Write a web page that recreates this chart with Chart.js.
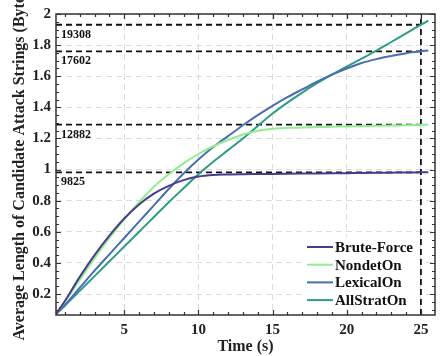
<!DOCTYPE html>
<html>
<head>
<meta charset="utf-8">
<script src="https://cdn.jsdelivr.net/npm/chart.js@4.4.0/dist/chart.umd.min.js"></script>
<style>
  html, body { margin: 0; padding: 0; background: #fff; }
  #wrap { width: 446px; height: 356px; }
</style>
</head>
<body>
<div id="wrap"><canvas id="chart" width="446" height="356"></canvas></div>
<script>
// time axis (s), shared by all series
var time = [0.4, 1, 2, 3, 4, 5, 6, 7, 8, 9, 10, 11, 12, 13, 14, 15, 16, 17, 18, 19, 20, 21, 22, 23, 24, 25, 25.5];

// average length, x10^4 bytes
var bruteForce = [0.07, 0.155, 0.31, 0.45, 0.575, 0.685, 0.775, 0.845, 0.895, 0.932, 0.955, 0.965, 0.968, 0.97, 0.971, 0.972, 0.973, 0.974, 0.975, 0.976, 0.977, 0.978, 0.979, 0.98, 0.981, 0.9825, 0.983];
var nondetOn = [0.07, 0.15, 0.29, 0.43, 0.56, 0.68, 0.79, 0.89, 0.97, 1.04, 1.10, 1.15, 1.19, 1.225, 1.25, 1.263, 1.268, 1.271, 1.273, 1.275, 1.277, 1.279, 1.281, 1.283, 1.285, 1.288, 1.289];
var lexicalOn = [0.07, 0.13, 0.24, 0.35, 0.455, 0.56, 0.665, 0.77, 0.875, 0.975, 1.065, 1.145, 1.215, 1.285, 1.35, 1.41, 1.465, 1.515, 1.565, 1.61, 1.65, 1.685, 1.71, 1.73, 1.748, 1.76, 1.765];
var allStratOn = [0.07, 0.125, 0.22, 0.315, 0.41, 0.505, 0.60, 0.695, 0.79, 0.88, 0.97, 1.05, 1.125, 1.20, 1.28, 1.36, 1.43, 1.495, 1.555, 1.61, 1.662, 1.713, 1.765, 1.82, 1.875, 1.931, 1.957];

var seriesNames = ['Brute-Force', 'NondetOn', 'LexicalOn', 'AllStratOn'];
var seriesColors = ['#473c8e', '#90ee90', '#4a6db0', '#2e9c87'];

// marked values at t = 25
var markTime = 25;
var markValues = [1.9308, 1.7602, 1.2882, 0.9825];
var markLabels = ['19308', '17602', '12882', '9825'];

var xTicks = [5, 10, 15, 20, 25];
var yTicks = [0.2, 0.4, 0.6, 0.8, 1, 1.2, 1.4, 1.6, 1.8, 2];
var xMin = 0.4, xMax = 25.95, yMin = 0.065, yMax = 2;

var serif = "'Liberation Serif', 'Times New Roman', serif";

function pts(ys) {
  return time.map(function(t, i) { return {x: t, y: ys[i]}; });
}

var allSeries = [bruteForce, nondetOn, lexicalOn, allStratOn];
var datasets = [];
for (var i = 0; i < allSeries.length; i++) {
  datasets.push({
    label: seriesNames[i],
    data: pts(allSeries[i]),
    borderColor: seriesColors[i],
    borderWidth: 2,
    pointRadius: 0,
    fill: false,
    cubicInterpolationMode: 'monotone'
  });
}
// dashed marker lines
for (var j = 0; j < markValues.length; j++) {
  datasets.push({
    label: 'mark' + j,
    data: [{x: xMin, y: markValues[j]}, {x: markTime, y: markValues[j]}],
    borderColor: '#111',
    borderWidth: 1.8,
    borderDash: [6, 4],
    pointRadius: 0,
    fill: false
  });
}
datasets.push({
  label: 'markV',
  data: [{x: markTime, y: yMin}, {x: markTime, y: yMax}],
  borderColor: '#111',
  borderWidth: 1.8,
  borderDash: [6, 4],
  pointRadius: 0,
  fill: false
});

var legendBox = {
  id: 'legendBox',
  beforeDatasetsDraw: function(chart) {
    var a = chart.chartArea, c = chart.ctx;
    c.save();
    c.fillStyle = '#fff';
    c.fillRect(a.right - 131, a.bottom - 78, 116, 72);
    c.restore();
  },
  afterDatasetsDraw: function(chart) {
    var a = chart.chartArea, c = chart.ctx;
    c.save();
    c.font = 'bold 15px ' + serif;
    c.textBaseline = 'middle';
    c.fillStyle = '#111';
    for (var i = 0; i < seriesNames.length; i++) {
      var y = a.bottom - 68 + i * 17.7;
      c.strokeStyle = seriesColors[i];
      c.lineWidth = 2;
      c.beginPath();
      c.moveTo(a.right - 128, y);
      c.lineTo(a.right - 102, y);
      c.stroke();
      c.fillText(seriesNames[i], a.right - 100, y + 1);
    }
    // marker labels
    var ys = chart.scales.y;
    c.font = 'bold 12px ' + serif;
    c.textBaseline = 'alphabetic';
    for (var k = 0; k < markValues.length; k++) {
      c.fillText(markLabels[k], a.left + 5, ys.getPixelForValue(markValues[k]) + 13);
    }
    c.restore();
  }
};

var frameTicks = {
  id: 'frameTicks',
  afterDraw: function(chart) {
    var a = chart.chartArea, c = chart.ctx;
    var xs = chart.scales.x, ys = chart.scales.y;
    c.save();
    c.strokeStyle = '#333';
    c.lineWidth = 1.2;
    c.beginPath();
    for (var t = 1; t <= 25; t++) {
      var px = Math.round(xs.getPixelForValue(t)) + 0.5;
      var len = (t % 5 === 0) ? 5 : 3;
      c.moveTo(px, a.bottom); c.lineTo(px, a.bottom - len);
      c.moveTo(px, a.top); c.lineTo(px, a.top + len);
    }
    for (var k = 2; k <= 40; k++) {
      var v = k * 0.05;
      if (v < yMin) continue;
      var py = Math.round(ys.getPixelForValue(v)) + 0.5;
      var l2 = (k % 4 === 0) ? 5 : 3;
      c.moveTo(a.left, py); c.lineTo(a.left + l2, py);
      c.moveTo(a.right, py); c.lineTo(a.right - l2, py);
    }
    c.stroke();
    c.lineWidth = 1.5;
    c.strokeRect(a.left, a.top, a.right - a.left, a.bottom - a.top);
    c.restore();
  }
};

var ctx = document.getElementById('chart');
var chart = new Chart(ctx, {
  type: 'line',
  data: { datasets: datasets },
  options: {
    responsive: false,
    animation: false,
    layout: { padding: { top: 13, right: 11, left: 0, bottom: 0 } },
    plugins: { legend: { display: false }, tooltip: { enabled: false } },
    scales: {
      x: {
        type: 'linear',
        min: xMin,
        max: xMax,
        afterBuildTicks: function(s) { s.ticks = xTicks.map(function(v) { return {value: v}; }); },
        afterFit: function(s) { s.height = 41; },
        grid: { color: '#dcdcdc', lineWidth: 1, drawTicks: false },
        border: { display: false, dash: [6, 4] },
        ticks: { font: { family: serif, size: 15, weight: 'bold' }, color: '#222', padding: 6, maxRotation: 0 },
        title: { display: true, text: 'Time (s)', font: { family: serif, size: 16, weight: 'bold' }, color: '#222', padding: { top: 0, bottom: 0 } }
      },
      y: {
        type: 'linear',
        min: yMin,
        max: yMax,
        afterBuildTicks: function(s) { s.ticks = yTicks.map(function(v) { return {value: v}; }); },
        afterFit: function(s) { s.width = 56; },
        grid: { color: '#dcdcdc', lineWidth: 1, drawTicks: false },
        border: { display: false, dash: [6, 4] },
        ticks: {
          font: { family: serif, size: 15, weight: 'bold' }, color: '#222', padding: 5,
          callback: function(v) { return String(+v.toFixed(1)); }
        },
        title: { display: true, text: ' Average Length of Candidate Attack Strings (Bytes)', font: { family: serif, size: 16, weight: 'bold' }, color: '#222', padding: { top: 10, bottom: 0 } }
      }
    }
  },
  plugins: [legendBox, frameTicks]
});
</script>
</body>
</html>
